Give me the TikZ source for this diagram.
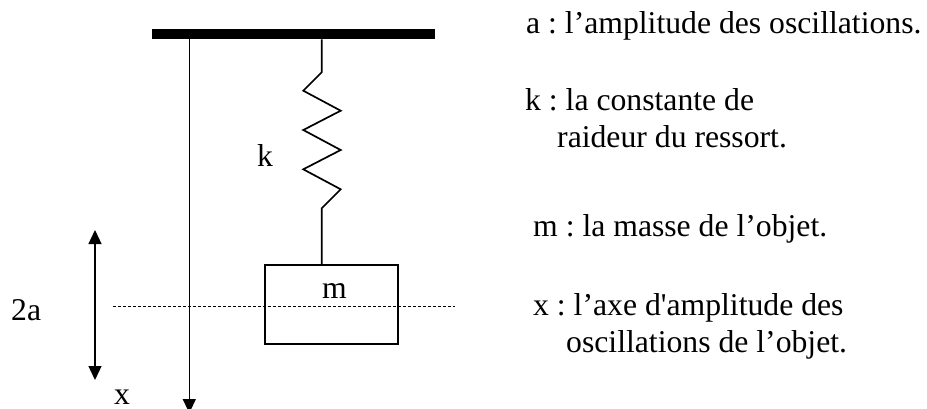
\documentclass[tikz,border=0pt]{standalone}
\usepackage{fontspec}
\setmainfont{Liberation Serif}
\usetikzlibrary{arrows.meta}
\frenchspacing
\begin{document}
\begin{tikzpicture}[x=1pt,y=-1pt,
  lbl/.style={anchor=base west,inner sep=0pt,font=\fontsize{31.7}{37}\selectfont\frenchspacing},
  thin/.style={line width=1.3pt},
  spr/.style={line width=1.7pt,line join=miter},
  tip/.style={-{Triangle[length=14pt,width=13pt]}},
  dtip/.style={{Triangle[length=14pt,width=13pt]}-{Triangle[length=14pt,width=13pt]}}]
\useasboundingbox (0,0) rectangle (927,408);
\clip (0,0) rectangle (927,408);
\fill[white] (0,0) rectangle (927,408);
% ceiling bar
\node[fill=black,draw=none,inner sep=0pt,minimum width=283pt,minimum height=10pt] (bar) at (293.5,34.3) {};
% mass box
\node[draw,line width=1.6pt,inner sep=0pt,minimum width=133pt,minimum height=79pt] (box) at (331.7,304.5) {};
\node[lbl] (mlab) at (322,298) {m};
% spring
\coordinate (stop) at (321.7,39.3);
\coordinate (sbot) at (321.7,265);
\draw[spr] (stop) -- (321.7,72.3) -- (303.3,90.7) -- (340.7,110.7) -- (303.3,130) -- (340.7,150)
  -- (303.3,169.3) -- (340.7,189.3) -- (321.7,208.3) -- (sbot);
\node[lbl] (klab) at (257,166) {k};
% long x axis arrow
\coordinate (axtop) at (189.3,39.3);
\coordinate (axbot) at (189.3,413);
\draw[thin,tip] (axtop) -- (axbot);
\node[lbl] (xlab) at (114,404) {x};
% amplitude double arrow
\coordinate (amptop) at (95,230);
\coordinate (ampbot) at (95,380);
\draw[thin,dtip] (amptop) -- (ampbot);
\node[lbl] (twoa) at (11,320) {2a};
% dashed equilibrium line
\coordinate (dl) at (113,306);
\coordinate (dr) at (455,306);
\draw[line width=0.8pt,dash pattern=on 3pt off 2pt] (dl) -- (dr);
% legend
\node[lbl] (t1) at (526,33) {a : l’amplitude des oscillations.};
\node[lbl] (t2) at (525,110) {k : la constante de};
\node[lbl] (t3) at (557,147) {raideur du ressort.};
\node[lbl] (t4) at (533,236) {m : la masse de l’objet.};
\node[lbl] (t5) at (533,315) {x : l’axe d\textquotesingle amplitude des};
\node[lbl] (t6) at (566,352) {oscillations de l’objet.};
\end{tikzpicture}
\end{document}
